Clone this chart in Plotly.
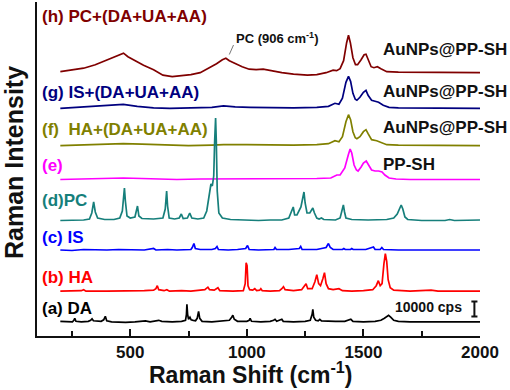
import plotly.graph_objects as go

# ---------------- data (relative intensity, a.u.; 15 a.u. = 10000 cps) ----------------
DA_PTS = [(200,1),(230,0.5),(252,0.5),(258,2),(262,4),(267,1),(290,0.5),(320,1),(330,2),(336,3.5),(342,1.5),
          (375,1),(386,2.5),(393,6),(399,1.5),(420,0.5),(480,0),(520,0.5),(550,1),(565,1.5),(585,0.5),(610,1.5),
          (622,2),(635,1),(680,0.5),(720,1),(737,2),(741,8),(743,18),(746,8),(750,3),(756,5),(761,2.5),(770,2),
          (780,1.5),(787,4),(793,11),(798,4),(808,1),(850,0.5),(900,1),(925,2),(935,5),(940,7),(946,3),(960,1),
          (1000,1),(1010,2),(1014,4),(1020,1),(1060,0.5),(1100,1),(1115,2),(1121,3),(1128,1),(1145,2),(1150,3),
          (1156,1),(1200,0.5),(1250,1),(1272,2),(1280,8),(1283,13),(1287,5),(1295,2),(1306,1.5),(1313,3),(1320,1.5),
          (1345,1),(1380,1),(1420,1),(1440,2),(1446,3),(1455,1),(1500,0.5),(1550,1),(1575,2),(1590,4),(1600,5.5),
          (1608,7),(1618,5),(1630,2),(1650,1),(1700,0.5),(1800,0.5),(1900,0.5),(2000,0.5)]

HA_PTS = [(200,0.5),(250,0.5),(290,1),(300,2),(310,0.5),(400,0.5),(500,0.5),(560,1),(600,1.5),(610,3),(616,6),
          (622,2),(645,1),(657,2),(668,0.5),(720,1),(760,0.5),(800,1),(820,2),(833,4.5),(840,2),(860,1.5),(876,4),
          (884,1),(940,0.5),(985,1),(993,8),(997,29),(1001,26),(1005,6),(1012,2),(1025,1.5),(1034,3),(1042,1),
          (1055,1.5),(1060,3),(1066,1),(1100,0.5),(1140,1),(1150,3),(1157,5),(1164,2),(1200,1),(1235,2),(1248,6),
          (1254,8),(1261,3),(1280,3),(1292,10),(1300,17),(1308,8),(1316,6),(1326,13),(1333,19),(1340,8),(1350,3),
          (1370,2),(1385,3),(1395,3),(1410,1),(1450,0.5),(1500,1),(1540,2),(1555,6),(1564,11),(1572,6),(1580,8),
          (1588,28),(1594,38),(1600,30),(1606,12),(1615,4),(1630,1.5),(1700,0.5),(1760,1),(1790,1.5),(1820,0.5),
          (1900,0.5),(2000,0.5)]

IS_PTS = [(200,0.5),(250,0),(300,1),(350,0.5),(400,0.5),(450,1),(500,1),(560,0.5),(600,2),(610,0.5),(660,1),
          (700,0.5),(760,1),(766,3),(773,7),(779,2),(800,1),(850,1),(865,2),(872,4),(878,1),(920,0.5),(960,1),
          (995,2),(1003,5),(1010,1),(1050,0.5),(1116,1),(1121,3),(1127,1),(1180,1),(1225,2),(1231,4),(1237,1),
          (1300,1),(1340,3),(1350,7),(1358,3),(1370,1),(1410,1),(1416,2),(1422,1),(1445,1),(1450,2),(1456,1),
          (1510,1),(1543,3.5),(1550,1),(1572,1),(1579,3),(1586,1),(1650,0.5),(1800,0.5),(2000,0.5)]

PC_PTS = [(200,0.5),(260,1),(300,1),(325,2),(335,8),(343,19),(350,9),(360,3),(390,1.5),(430,1.5),(455,3),(466,10),
          (472,28),(475,33),(479,20),(486,5),(500,3),(520,4),(531,15),(537,5),(550,2.5),(600,2),(640,3),(650,12),
          (656,30),(660,15),(667,3),(690,2),(710,3),(719,7),(727,2.5),(745,3),(755,8),(764,3),(790,2),(815,3),
          (828,10),(838,25),(846,37),(852,35),(858,45),(862,80),(866,103),(869,80),(873,30),(880,8),(895,3),
          (930,1.5),(980,1),(1050,0.5),(1100,1),(1150,1),(1180,3),(1192,10),(1199,14),(1205,6),(1215,6),(1232,14),
          (1240,25),(1245,29),(1250,18),(1258,8),(1270,8),(1278,12),(1283,13),(1290,8),(1300,3),(1310,2),(1320,3),
          (1330,1.5),(1380,1),(1400,3),(1409,10),(1414,16),(1419,9),(1425,3),(1450,1.5),(1520,1),(1600,1.5),
          (1630,3),(1645,7),(1655,13),(1662,16),(1669,12),(1678,4),(1690,1.5),(1750,0.5),(1850,0.5),(1870,1.5),
          (1890,0.5),(1960,1),(2000,1)]

PPSH_PTS = [(200,0.5),(300,1),(400,1.5),(470,2),(550,1.5),(620,1),(700,0.5),(800,1),(900,1),(1000,1.5),(1100,1),
            (1200,1),(1300,1.5),(1360,2),(1386,5),(1400,5),(1420,12),(1435,25),(1443,31),(1450,27),(1460,15),
            (1470,10),(1477,9),(1490,13),(1500,17),(1512,19),(1520,16),(1535,10),(1550,9),(1565,9),(1580,8),
            (1592,5),(1610,2),(1640,1),(1700,0.5),(1800,0.5),(2000,0.5)]

HA_MIX_PTS = [(200,0),(300,1),(400,1.5),(470,2),(550,1.5),(650,0.5),(750,0),(850,0.5),(900,1),(1000,1),(1100,0.5),
              (1200,0.5),(1300,1),(1350,2),(1378,5),(1395,4),(1410,9),(1425,24),(1436,31),(1445,26),(1455,14),
              (1465,8),(1472,7),(1485,9),(1500,14),(1511,16),(1520,12),(1535,6),(1557,5),(1575,3),(1600,1),
              (1650,0.5),(1800,0),(2000,0)]

IS_MIX_PTS = [(200,0),(300,1.5),(400,3),(470,4),(530,2),(600,0.5),(670,0),(750,0.5),(850,1),(900,2.5),(950,1.5),
              (1014,1),(1100,0.5),(1200,0.5),(1300,1),(1350,2),(1378,5),(1395,4),(1410,10),(1425,26),(1436,32),
              (1445,27),(1455,15),(1465,9),(1472,8),(1485,11),(1500,16),(1511,18),(1520,13),(1535,8),(1550,7),
              (1565,6),(1585,3),(1610,1),(1650,0.5),(1800,0),(2000,0)]

PC_MIX_PTS = [(200,1),(250,2.5),(300,4.5),(350,8),(400,13),(440,17),(471,19.5),(490,16),(520,12),(557,7.5),(600,3),
              (640,-2.5),(680,-4),(720,-3),(760,-2),(800,0),(840,5),(870,9),(895,13),(910,14.5),(925,12),(950,9),
              (980,6),(1010,3.5),(1040,3),(1070,3.5),(1100,2),(1150,0),(1200,-1.5),(1260,-2.5),(1300,-2),(1340,0),
              (1370,2.5),(1385,2),(1400,4),(1415,12),(1428,30),(1436,37.5),(1444,30),(1455,15),(1466,8),(1475,8),
              (1490,13),(1503,18),(1511,18.5),(1520,13),(1533,6),(1545,5),(1560,6),(1575,4),(1600,1),(1650,0.5),
              (1800,0),(2000,0)]

SPECTRA = [DA_PTS, HA_PTS, IS_PTS, PC_PTS, PPSH_PTS, HA_MIX_PTS, IS_MIX_PTS, PC_MIX_PTS]
OFFSETS = [13.7, 44.3, 85.5, 115, 156, 190.3, 227.7, 263.3]
COLORS = ["#000000", "#FF0000", "#0000FF", "#167F7B", "#FF00FF", "#808000", "#00007F", "#800000"]
LEFT_LABELS = ["(a) DA", "(b) HA", "(c) IS", "(d)PC", "(e)", "(f)  HA+(DA+UA+AA)", "(g) IS+(DA+UA+AA)", "(h) PC+(DA+UA+AA)"]
LEFT_LABEL_Y = [308, 277, 237, 200, 165, 129, 92, 17]
RIGHT_LABELS = ["PP-SH", "AuNPs@PP-SH", "AuNPs@PP-SH", "AuNPs@PP-SH"]
RIGHT_LABEL_Y = [164, 128, 91, 49]
X_TICKS = [500, 1000, 1500, 2000]
SCALE_BAR_AU = 15
SCALE_BAR_LABEL = "10000 cps"

# ---------------- layout geometry (pixels) ----------------
W, H = 510, 390
ML, MR, MT, MB = 37, 30, 2, 54
PW, PH = W - ML - MR, H - MT - MB
XR = [100, 2000]
YR = [0, PH]

def px_x(p):
    return (p - ML) / PW

def px_y(p):
    return (H - MB - p) / PH

FONT = "Liberation Sans, Arial, sans-serif"

fig = go.Figure()
draw_order = [0, 1, 2, 4, 5, 6, 7, 3]
for i in draw_order:
    pts = SPECTRA[i]
    xs = [p[0] for p in pts]
    ys = [p[1] + OFFSETS[i] for p in pts]
    fig.add_trace(go.Scatter(x=xs, y=ys, mode="lines",
                             line=dict(color=COLORS[i], width=1.7), showlegend=False,
                             hoverinfo="skip"))

annotations = []
for lab, yp, col in zip(LEFT_LABELS, LEFT_LABEL_Y, COLORS):
    annotations.append(dict(text=lab, xref="paper", yref="paper", x=px_x(40), y=px_y(yp),
                            xanchor="left", yanchor="middle", showarrow=False,
                            font=dict(family=FONT, size=17, color=col, weight="bold")))
for lab, yp in zip(RIGHT_LABELS, RIGHT_LABEL_Y):
    annotations.append(dict(text=lab, xref="paper", yref="paper", x=px_x(381), y=px_y(yp),
                            xanchor="left", yanchor="middle", showarrow=False,
                            font=dict(family=FONT, size=17, color="#111111", weight="bold")))
annotations.append(dict(text="PC (906 cm<sup>-1</sup>)", xref="paper", yref="paper", x=px_x(234), y=px_y(38),
                        xanchor="left", yanchor="middle", showarrow=False,
                        font=dict(family=FONT, size=13, color="#111111", weight="bold")))
annotations.append(dict(text=SCALE_BAR_LABEL, xref="paper", yref="paper", x=px_x(464), y=px_y(307),
                        xanchor="right", yanchor="middle", showarrow=False,
                        font=dict(family=FONT, size=14, color="#111111", weight="bold")))
annotations.append(dict(text="Raman Shift (cm<sup>-1</sup>)", xref="paper", yref="paper", x=px_x(250), y=px_y(373),
                        xanchor="center", yanchor="middle", showarrow=False,
                        font=dict(family=FONT, size=23, color="#111111", weight="bold")))
annotations.append(dict(text="Raman Intensity", xref="paper", yref="paper", x=px_x(14), y=px_y(163),
                        xanchor="center", yanchor="middle", showarrow=False, textangle=-90,
                        font=dict(family=FONT, size=25, color="#111111", weight="bold")))

# scale bar (in data units)
sb_x = 1976
sb_y0 = 19.5
shapes = [
    dict(type="line", xref="x", yref="y", x0=sb_x, x1=sb_x, y0=sb_y0, y1=sb_y0 + SCALE_BAR_AU,
         line=dict(color="#111111", width=2)),
    dict(type="line", xref="x", yref="y", x0=sb_x - 13, x1=sb_x + 13, y0=sb_y0, y1=sb_y0,
         line=dict(color="#111111", width=2)),
    dict(type="line", xref="x", yref="y", x0=sb_x - 13, x1=sb_x + 13, y0=sb_y0 + SCALE_BAR_AU, y1=sb_y0 + SCALE_BAR_AU,
         line=dict(color="#111111", width=2)),
    dict(type="line", xref="paper", yref="paper", x0=px_x(233.5), y0=px_y(45), x1=px_x(229.3), y1=px_y(54.5),
         line=dict(color="#777777", width=1)),
]

fig.update_layout(
    width=W, height=H, margin=dict(l=ML, r=MR, t=MT, b=MB),
    paper_bgcolor="white", plot_bgcolor="white",
    annotations=annotations, shapes=shapes, showlegend=False,
    xaxis=dict(range=XR, tickvals=X_TICKS, ticks="inside", ticklen=7, tickwidth=2, tickcolor="#111111",
               showline=True, linecolor="#111111", linewidth=2, showgrid=False, zeroline=False,
               tickfont=dict(family=FONT, size=17, color="#111111", weight="bold"),
               minor=dict(tickvals=[250, 750, 1250, 1750], ticks="inside", ticklen=5, tickwidth=2, tickcolor="#111111")),
    yaxis=dict(range=YR, showticklabels=False, ticks="", showline=True, linecolor="#111111", linewidth=2,
               showgrid=False, zeroline=False),
)

fig.write_html("out.html", config={"displayModeBar": False},
               post_script="document.body.style.margin='0';document.body.style.overflow='hidden';")
